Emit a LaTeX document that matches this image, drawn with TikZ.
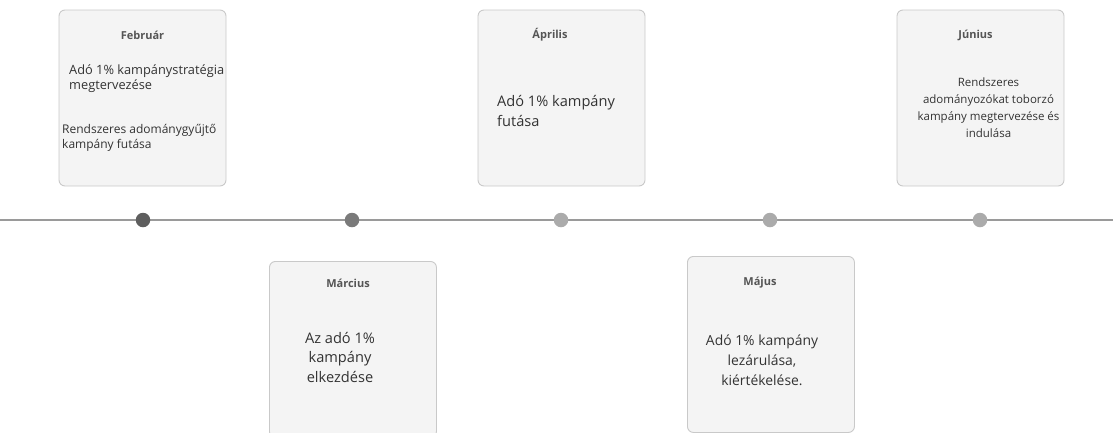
\documentclass[tikz,border=0pt]{standalone}
\usepackage{fontspec}
\setmainfont{Open Sans}
\begin{document}
\begin{tikzpicture}[x=1pt,y=-1pt,
  card/.style={draw=cardline,fill=cardfill,rounded corners=6pt,line width=0.9pt,minimum width=167pt,minimum height=176pt,inner sep=0pt},
  ttl/.style={text=titlec,font=\fontsize{11}{12}\selectfont\bfseries,inner sep=0pt},
  bodyS/.style={text=bodyc,font=\fontsize{12}{15}\selectfont,inner sep=0pt},
  bodyL/.style={text=bodyc,font=\fontsize{14.6}{19.5}\selectfont,inner sep=0pt},
  bodyJ/.style={text=bodyc,font=\fontsize{11.5}{17}\selectfont,inner sep=0pt},
  dot/.style={circle,inner sep=0pt,minimum size=14.5pt}]
\definecolor{cardline}{HTML}{C9C9C9}
\definecolor{cardfill}{HTML}{F4F4F4}
\definecolor{titlec}{HTML}{555555}
\definecolor{bodyc}{HTML}{333333}
\definecolor{linec}{HTML}{9A9A9A}
\definecolor{dotA}{HTML}{5E5E5E}
\definecolor{dotB}{HTML}{7A7A7A}
\definecolor{dotC}{HTML}{ABABAB}
\useasboundingbox (0,0) rectangle (1113,432);
\clip (0,0) rectangle (1113,432);
% cards
\node[card] (feb) at (142.5,98) {};
\node[card] (apr) at (561.5,98) {};
\node[card] (jun) at (980.5,98) {};
\node[card,anchor=north west] (mar) at (269,261) {};
\node[card,anchor=north west] (may) at (687,256) {};
% timeline
\coordinate (tl) at (0,220);
\coordinate (tr) at (1113,220);
\draw[linec,line width=1.5pt] (tl) -- (tr);
\node[dot,fill=dotA] (d1) at (143,220) {};
\node[dot,fill=dotB] (d2) at (352,220) {};
\node[dot,fill=dotC] (d3) at (561,220) {};
\node[dot,fill=dotC] (d4) at (770,220) {};
\node[dot,fill=dotC] (d5) at (980,220) {};
% February
\node[ttl] (febt) at (142.5,35) {Február};
\node[bodyS,anchor=west,align=left,font=\fontsize{12.8}{15}\selectfont] (feb1) at (69,79) {Adó 1\% kampánystratégia\\megtervezése};
\node[bodyS,anchor=west,align=left] (feb2) at (62,137.5) {Rendszeres adománygyűjtő\\kampány futása};
% March
\node[ttl] (mart) at (348,283) {Március};
\node[bodyL,align=center] (marb) at (340,357) {Az adó 1\%\\kampány\\elkezdése};
% April
\node[ttl] (aprt) at (550,35) {Április};
\node[bodyL,anchor=west,align=left] (aprb) at (497,111) {Adó 1\% kampány\\futása};
% May
\node[ttl] (mayt) at (760,283) {Május};
\node[bodyL,align=center,font=\fontsize{13.9}{20}\selectfont] (mayb) at (762,360) {Adó 1\% kampány\\lezárulása,\\kiértékelése.};
% June
\node[ttl] (junt) at (975.5,35) {Június};
\node[bodyJ,align=center] (junb) at (988.5,107.5) {Rendszeres\\adományozókat toborzó\\kampány megtervezése és\\indulása};
\end{tikzpicture}
\end{document}
